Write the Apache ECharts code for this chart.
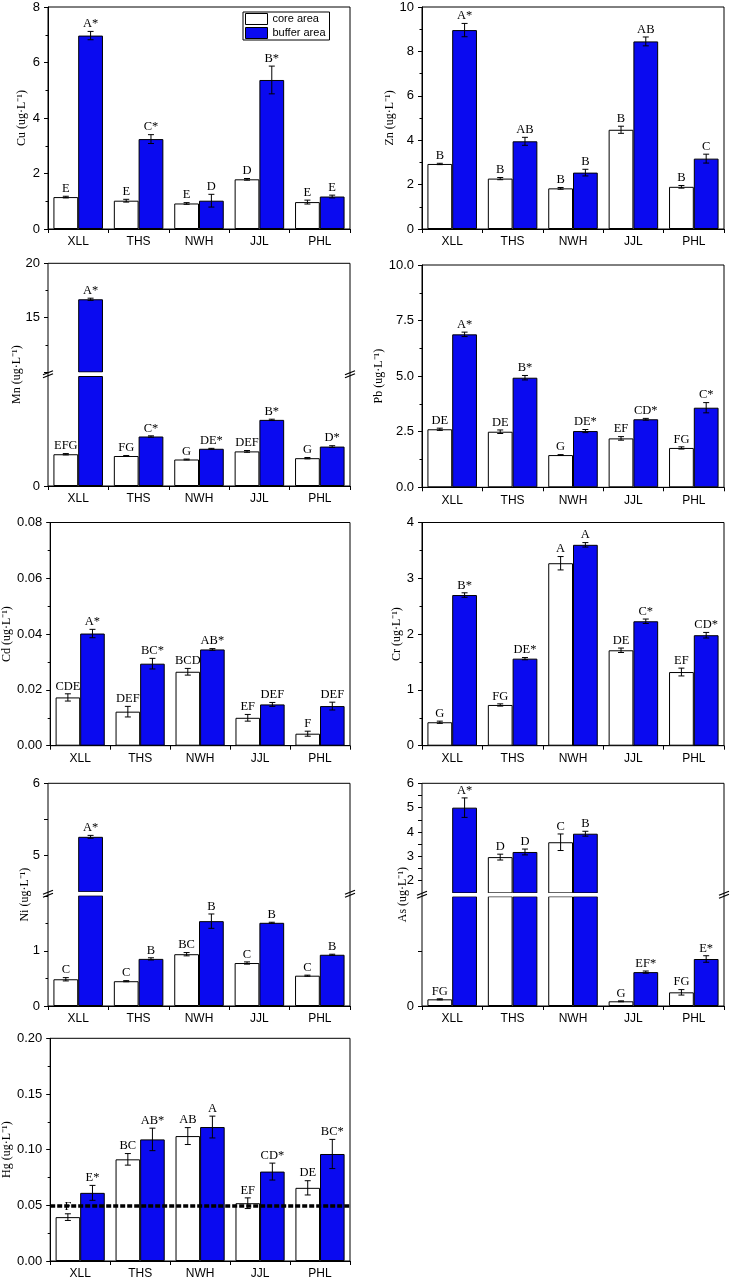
<!DOCTYPE html>
<html>
<head>
<meta charset="utf-8">
<script src="https://cdn.jsdelivr.net/npm/echarts@6/dist/echarts.min.js"></script>
<style>html,body{margin:0;padding:0;background:#fff}#c{width:733px;height:1280px}</style>
</head>
<body>
<div id="c"></div>
<script>
// ---------------- data ----------------
const sites = ['XLL', 'THS', 'NWH', 'JJL', 'PHL'];

const cuCore = [1.15, 1.02, 0.92, 1.79, 0.97];
const cuCoreErr = [0.03, 0.05, 0.03, 0.03, 0.07];
const cuCoreSig = ['E', 'E', 'E', 'D', 'E'];
const cuBuf = [6.97, 3.24, 1.02, 5.37, 1.17];
const cuBufErr = [0.15, 0.16, 0.23, 0.50, 0.05];
const cuBufSig = ['A*', 'C*', 'D', 'B*', 'E'];

const znCore = [2.93, 2.27, 1.83, 4.47, 1.90];
const znCoreErr = [0.03, 0.05, 0.04, 0.16, 0.06];
const znCoreSig = ['B', 'B', 'B', 'B', 'B'];
const znBuf = [8.96, 3.95, 2.54, 8.45, 3.17];
const znBufErr = [0.30, 0.18, 0.15, 0.20, 0.20];
const znBufSig = ['A*', 'AB', 'B', 'AB', 'C'];

const mnCore = [1.45, 1.37, 1.21, 1.58, 1.27];
const mnCoreErr = [0.03, 0.02, 0.02, 0.04, 0.03];
const mnCoreSig = ['EFG', 'FG', 'G', 'DEF', 'G'];
const mnBuf = [16.69, 2.26, 1.70, 3.02, 1.80];
const mnBufErr = [0.10, 0.03, 0.02, 0.03, 0.04];
const mnBufSig = ['A*', 'C*', 'DE*', 'B*', 'D*'];

const pbCore = [2.61, 2.50, 1.45, 2.20, 1.77];
const pbCoreErr = [0.05, 0.08, 0.02, 0.08, 0.05];
const pbCoreSig = ['DE', 'DE', 'G', 'EF', 'FG'];
const pbBuf = [6.88, 4.93, 2.53, 3.06, 3.58];
const pbBufErr = [0.10, 0.10, 0.07, 0.04, 0.23];
const pbBufSig = ['A*', 'B*', 'DE*', 'CD*', 'C*'];

const cdCore = [0.0173, 0.0122, 0.0265, 0.0100, 0.0043];
const cdCoreErr = [0.0013, 0.0019, 0.0012, 0.0012, 0.0009];
const cdCoreSig = ['CDE', 'DEF', 'BCD', 'EF', 'F'];
const cdBuf = [0.0402, 0.0294, 0.0345, 0.0148, 0.0142];
const cdBufErr = [0.0015, 0.0019, 0.0003, 0.0007, 0.0014];
const cdBufSig = ['A*', 'BC*', 'AB*', 'DEF', 'DEF'];

const crCore = [0.42, 0.73, 3.27, 1.71, 1.32];
const crCoreErr = [0.02, 0.02, 0.12, 0.04, 0.07];
const crCoreSig = ['G', 'FG', 'A', 'DE', 'EF'];
const crBuf = [2.70, 1.56, 3.60, 2.23, 1.98];
const crBufErr = [0.04, 0.02, 0.04, 0.04, 0.05];
const crBufSig = ['B*', 'DE*', 'A', 'C*', 'CD*'];

const niCore = [0.485, 0.45, 0.94, 0.78, 0.55];
const niCoreErr = [0.03, 0.01, 0.03, 0.02, 0.01];
const niCoreSig = ['C', 'C', 'BC', 'C', 'C'];
const niBuf = [5.26, 0.855, 1.54, 1.51, 0.93];
const niBufErr = [0.02, 0.02, 0.13, 0.01, 0.01];
const niBufSig = ['A*', 'B', 'B', 'B', 'B'];

const asCore = [0.061, 2.97, 3.58, 0.043, 0.125];
const asCoreErr = [0.005, 0.12, 0.34, 0.004, 0.025];
const asCoreSig = ['FG', 'D', 'C', 'G', 'FG'];
const asBuf = [5.00, 3.18, 3.93, 0.31, 0.43];
const asBufErr = [0.40, 0.12, 0.10, 0.01, 0.03];
const asBufSig = ['A*', 'D', 'B', 'EF*', 'E*'];

const hgCore = [0.0394, 0.0913, 0.1122, 0.0519, 0.0657];
const hgCoreErr = [0.0030, 0.0052, 0.0076, 0.0048, 0.0064];
const hgCoreSig = ['F', 'BC', 'AB', 'EF', 'DE'];
const hgBuf = [0.0612, 0.1092, 0.1203, 0.0803, 0.0961];
const hgBufErr = [0.0067, 0.0101, 0.0098, 0.0076, 0.0131];
const hgBufSig = ['E*', 'AB*', 'A', 'CD*', 'BC*'];
const hgRef = 0.05;

// ---------------- styling / layout ----------------
const SANS = "'Liberation Sans', Arial, sans-serif";
const SERIF = "'Liberation Serif', 'Times New Roman', serif";
const BLUE = '#0a0af0';
const BAR_W = 0.41;

const grids = [], xAxes = [], yAxes = [], series = [], graphics = [];

function makeGrid(x, y, w, h, show) {
  grids.push({left: x, top: y, width: w, height: h, show: show, borderColor: '#000', borderWidth: 1, backgroundColor: 'rgba(0,0,0,0)'});
  return grids.length - 1;
}
function catAxis(gi, show) {
  xAxes.push({
    type: 'category', gridIndex: gi, data: sites, show: show, boundaryGap: true,
    axisLine: {show: true, lineStyle: {color: '#000', width: 1}},
    axisTick: {show: true, length: 4, lineStyle: {color: '#000'}},
    axisLabel: {color: '#000', fontFamily: SANS, fontSize: 12, margin: 7}
  });
  return xAxes.length - 1;
}
function valAxis(gi, o) {
  const ax = {
    type: 'value', gridIndex: gi, min: o.min, max: o.max, interval: o.interval,
    axisLine: {show: o.line !== false, lineStyle: {color: '#000'}},
    axisTick: {show: true, length: 4, lineStyle: {color: '#000'}},
    minorTick: {show: o.minor !== false, splitNumber: 2, length: 2.5, lineStyle: {color: '#000'}},
    splitLine: {show: false},
    axisLabel: {color: '#000', fontFamily: SANS, fontSize: 13, margin: 8}
  };
  if (o.fmt) ax.axisLabel.formatter = o.fmt;
  if (o.showMin === false) ax.axisLabel.showMinLabel = false;
  if (o.showMax === false) ax.axisLabel.showMaxLabel = false;
  if (o.name) Object.assign(ax, nameOpts(o.name, o.ng));
  yAxes.push(ax);
  return yAxes.length - 1;
}
function nameOpts(name, ng) {
  return {name: name, nameLocation: 'middle', nameGap: ng, nameRotate: 90,
    nameTextStyle: {fontFamily: SERIF, fontSize: 12, color: '#000'}};
}
function bars(xi, yi, coreVals, bufVals, mark) {
  series.push({type: 'bar', name: 'core area', xAxisIndex: xi, yAxisIndex: yi, data: coreVals,
    barWidth: (BAR_W * 100) + '%', barGap: '0%', clip: true, silent: true,
    itemStyle: {color: '#fff', borderColor: '#000', borderWidth: 1}});
  const s = {type: 'bar', name: 'buffer area', xAxisIndex: xi, yAxisIndex: yi, data: bufVals,
    barWidth: (BAR_W * 100) + '%', barGap: '0%', clip: true, silent: true,
    itemStyle: {color: BLUE, borderColor: '#000', borderWidth: 1}};
  if (mark) s.markLine = mark;
  series.push(s);
}
function errs(xi, yi, items, sigs, side) {
  series.push({
    type: 'custom', xAxisIndex: xi, yAxisIndex: yi, data: items, silent: true, z: 5,
    renderItem: function (p, api) {
      const idx = api.value(0), v = api.value(1), e = api.value(2);
      const band = api.size([1, 0])[0];
      const bw = band * BAR_W;
      const x = api.coord([idx, v])[0] + side * bw / 2;
      const yt = api.coord([idx, v + e])[1];
      const yb = api.coord([idx, v - e])[1];
      const cw = 3;
      const st = {stroke: '#000', lineWidth: 1};
      return {type: 'group', children: [
        {type: 'line', shape: {x1: x, y1: yt, x2: x, y2: yb}, style: st},
        {type: 'line', shape: {x1: x - cw, y1: yt, x2: x + cw, y2: yt}, style: st},
        {type: 'line', shape: {x1: x - cw, y1: yb, x2: x + cw, y2: yb}, style: st},
        {type: 'text', style: {x: x, y: yt - 1, text: sigs[idx], align: 'center', verticalAlign: 'bottom',
          font: '12.5px ' + SERIF, fill: '#000'}}
      ]};
    }
  });
}
function items(vals, errsArr, keep) {
  const out = [];
  vals.forEach((v, i) => { if (!keep || keep(v)) out.push([i, v, errsArr[i]]); });
  return out;
}
const intFmt = v => (Math.abs(v - Math.round(v)) < 1e-9 ? String(Math.round(v)) : '');

function panel(cfg, core, coreE, coreS, buf, bufE, bufS) {
  const b = cfg.box;
  if (!cfg.broken) {
    const gi = makeGrid(b[0], b[1], b[2], b[3], true);
    const xi = catAxis(gi, true);
    const yi = valAxis(gi, Object.assign({}, cfg.y, {name: cfg.name, ng: cfg.ng}));
    bars(xi, yi, core, buf, cfg.mark);
    errs(xi, yi, items(core, coreE), coreS, -1);
    errs(xi, yi, items(buf, bufE), bufS, 1);
  } else {
    const br = cfg.broken;
    const gf = makeGrid(b[0], b[1], b[2], b[3], true);
    xAxes.push({type: 'category', gridIndex: gf, data: sites, show: false});
    const yf = {type: 'value', gridIndex: gf, min: 0, max: 1,
      axisLine: {show: false}, axisTick: {show: false}, axisLabel: {show: false}, splitLine: {show: false}};
    Object.assign(yf, nameOpts(cfg.name, cfg.ng));
    yAxes.push(yf);
    const lh = b[3] - br.uh - br.gap;
    const gu = makeGrid(b[0], b[1], b[2], br.uh, false);
    const xu = catAxis(gu, false);
    const yu = valAxis(gu, Object.assign({line: false, showMin: false}, br.upper));
    const gl = makeGrid(b[0], b[1] + br.uh + br.gap, b[2], lh, false);
    const xl = catAxis(gl, true);
    const yl = valAxis(gl, Object.assign({line: false, showMax: false}, br.lower));
    bars(xl, yl, core, buf);
    const up = v => (v > br.upper.min ? v : '-');
    bars(xu, yu, core.map(up), buf.map(up));
    const inLow = v => v < br.lower.max;
    const inUp = v => v >= br.upper.min;
    errs(xl, yl, items(core, coreE, inLow), coreS, -1);
    errs(xl, yl, items(buf, bufE, inLow), bufS, 1);
    errs(xu, yu, items(core, coreE, inUp), coreS, -1);
    errs(xu, yu, items(buf, bufE, inUp), bufS, 1);
    const yB = b[1] + br.uh + br.gap / 2;
    // white break band across the plot (hides clipped bar edges)
    graphics.push({type: 'rect', z: 90, shape: {x: b[0] + 1, y: yB - 1.8, width: b[2] - 2, height: 3.6},
      style: {fill: '#fff'}});
    [b[0], b[0] + b[2]].forEach(X => {
      graphics.push({type: 'line', z: 100, shape: {x1: X - 5, y1: yB + 0.5, x2: X + 5, y2: yB - 3.5}, style: {stroke: '#000', lineWidth: 1.2}});
      graphics.push({type: 'line', z: 100, shape: {x1: X - 5, y1: yB + 3.5, x2: X + 5, y2: yB - 0.5}, style: {stroke: '#000', lineWidth: 1.2}});
    });
  }
}

const f1 = v => v.toFixed(1);
const f2 = v => v.toFixed(2);

panel({name: 'Cu (ug·L⁻¹)', ng: 20, box: [48, 7, 302, 222], y: {min: 0, max: 8, interval: 2}},
  cuCore, cuCoreErr, cuCoreSig, cuBuf, cuBufErr, cuBufSig);
panel({name: 'Zn (ug·L⁻¹)', ng: 24, box: [422, 7, 302, 222], y: {min: 0, max: 10, interval: 2}},
  znCore, znCoreErr, znCoreSig, znBuf, znBufErr, znBufSig);
panel({name: 'Mn (ug·L⁻¹)', ng: 25, box: [48, 263.3, 302, 222.7],
  broken: {uh: 108.7, gap: 4.5, upper: {min: 10, max: 20, interval: 5}, lower: {min: 0, max: 5, interval: 5, minor: false}}},
  mnCore, mnCoreErr, mnCoreSig, mnBuf, mnBufErr, mnBufSig);
panel({name: 'Pb (ug·L⁻¹)', ng: 28, box: [422, 265, 302, 222.3], y: {min: 0, max: 10, interval: 2.5, fmt: f1}},
  pbCore, pbCoreErr, pbCoreSig, pbBuf, pbBufErr, pbBufSig);
panel({name: 'Cd (ug·L⁻¹)', ng: 31, box: [48, 522.5, 302, 223.2], y: {min: 0, max: 0.08, interval: 0.02, fmt: f2}},
  cdCore, cdCoreErr, cdCoreSig, cdBuf, cdBufErr, cdBufSig);
panel({name: 'Cr (ug·L⁻¹)', ng: 12, box: [422, 522.5, 302, 223.2], y: {min: 0, max: 4, interval: 1}},
  crCore, crCoreErr, crCoreSig, crBuf, crBufErr, crBufSig);
panel({name: 'Ni (ug·L⁻¹)', ng: 17, box: [48, 783.3, 302, 222.7],
  broken: {uh: 108.5, gap: 4, upper: {min: 4.5, max: 6, interval: 0.5, fmt: intFmt, minor: false},
    lower: {min: 0, max: 2, interval: 1}}},
  niCore, niCoreErr, niCoreSig, niBuf, niBufErr, niBufSig);
panel({name: 'As (ug·L⁻¹)', ng: 13, box: [422, 783.3, 302, 222.7],
  broken: {uh: 109.6, gap: 3.8, upper: {min: 1.5, max: 6, interval: 0.5, fmt: intFmt, minor: false},
    lower: {min: 0, max: 1, interval: 0.5, fmt: v => (v === 0 ? '0' : ''), minor: false}}},
  asCore, asCoreErr, asCoreSig, asBuf, asBufErr, asBufSig);
panel({name: 'Hg (ug·L⁻¹)', ng: 31, box: [48, 1038.3, 302, 223.4], y: {min: 0, max: 0.2, interval: 0.05, fmt: f2},
  mark: {silent: true, symbol: ['none', 'none'], label: {show: false}, z: 10,
    lineStyle: {color: '#000', width: 3.5, type: [5, 2]}, data: [{yAxis: hgRef}]}},
  hgCore, hgCoreErr, hgCoreSig, hgBuf, hgBufErr, hgBufSig);

const chart = echarts.init(document.getElementById('c'), null, {renderer: 'canvas'});
chart.setOption({
  animation: false,
  backgroundColor: '#fff',
  legend: {
    data: [
      {name: 'core area', itemStyle: {color: '#fff', borderColor: '#000', borderWidth: 1}},
      {name: 'buffer area', itemStyle: {color: BLUE, borderColor: '#000', borderWidth: 1}}
    ],
    orient: 'vertical', left: 243, top: 12, itemWidth: 22, itemHeight: 11, itemGap: 2,
    padding: [1, 4, 1, 2], borderColor: '#000', borderWidth: 1, borderRadius: 0, icon: 'rect',
    selectedMode: false, textStyle: {fontFamily: SANS, fontSize: 11, color: '#000'}
  },
  grid: grids, xAxis: xAxes, yAxis: yAxes, series: series, graphic: graphics
});
</script>
</body>
</html>
